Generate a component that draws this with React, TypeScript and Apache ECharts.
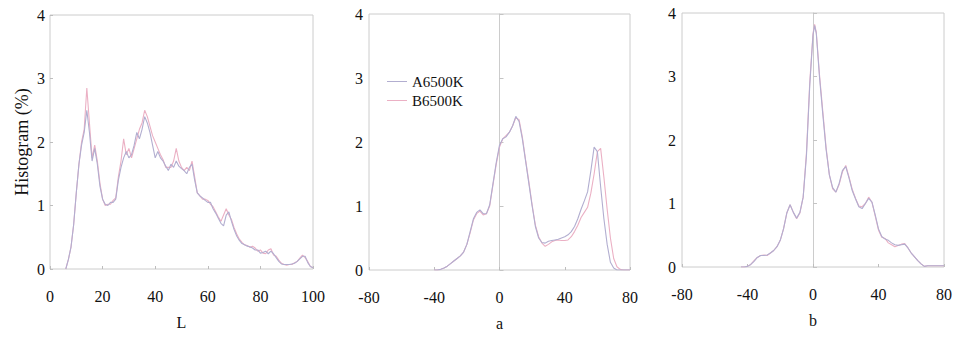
import React, { useEffect, useRef } from "react";
import * as echarts from "echarts";

// ---------- Tick labels ----------
const yTicks = [0, 1, 2, 3, 4];
const lTicks = [0, 20, 40, 60, 80, 100];
const abTicks = [-80, -40, 0, 40, 80];

const seriesNames = ["A6500K", "B6500K"];
const axisNames = ["L", "a", "b"];
const yAxisTitle = "Histogram (%)";

// ---------- Panel 1 : L ----------
const lX = [
  6, 7, 8, 9, 10, 11, 12, 13, 14, 15,
  16, 17, 18, 19, 20, 21, 22, 23, 24, 25,
  26, 27, 28, 29, 30, 31, 32, 33, 34, 35,
  36, 37, 38, 39, 40, 41, 42, 43, 44, 45,
  46, 47, 48, 49, 50, 51, 52, 53, 54, 55,
  56, 57, 58, 59, 60, 61, 62, 63, 64, 65,
  66, 67, 68, 69, 70, 71, 72, 73, 74, 75,
  76, 77, 78, 79, 80, 81, 82, 83, 84, 85,
  86, 87, 88, 89, 90, 91, 92, 93, 94, 95,
  96, 97, 98, 99, 100,
];
const lA = [
  0, 0.15, 0.35, 0.7, 1.2, 1.65, 1.95, 2.15, 2.5, 2.15,
  1.7, 1.9, 1.65, 1.3, 1.1, 1.02, 1.0, 1.05, 1.05, 1.1,
  1.4, 1.6, 1.75, 1.85, 1.75, 1.8, 1.95, 2.15, 2.05, 2.2,
  2.4, 2.3, 2.15, 1.95, 1.75, 1.85, 1.75, 1.7, 1.62, 1.55,
  1.65, 1.6, 1.7, 1.62, 1.58, 1.55, 1.5, 1.6, 1.65, 1.4,
  1.2, 1.15, 1.12, 1.08, 1.05, 1.05, 0.95, 0.88, 0.8, 0.72,
  0.68, 0.85, 0.9, 0.75, 0.62, 0.52, 0.45, 0.4, 0.38, 0.36,
  0.35, 0.33, 0.3, 0.3, 0.25, 0.26, 0.28, 0.24, 0.28, 0.24,
  0.18, 0.12, 0.08, 0.07, 0.07, 0.07, 0.08, 0.09, 0.12, 0.16,
  0.2, 0.2, 0.1, 0.04, 0.02,
];
const lB = [
  0, 0.15, 0.35, 0.7, 1.2, 1.65, 2.0, 2.2, 2.85, 2.3,
  1.75, 1.95, 1.7, 1.35, 1.1, 1.0, 1.02, 1.02, 1.08, 1.12,
  1.45, 1.7, 2.05, 1.8, 1.9, 1.75, 1.9, 2.05, 2.2, 2.3,
  2.5, 2.4, 2.25, 2.1, 2.0, 1.9, 1.8, 1.72, 1.6, 1.6,
  1.6, 1.7, 1.9, 1.7, 1.6, 1.55, 1.6, 1.55, 1.7, 1.45,
  1.2, 1.15, 1.1, 1.1, 1.08, 1.02, 0.98, 0.9, 0.82, 0.75,
  0.85, 0.95, 0.85, 0.78, 0.65, 0.55, 0.47, 0.42, 0.38, 0.37,
  0.34, 0.36, 0.33, 0.28, 0.3, 0.25, 0.24, 0.3, 0.32, 0.22,
  0.2, 0.14, 0.09, 0.07, 0.06, 0.07, 0.07, 0.1, 0.12, 0.17,
  0.22, 0.18, 0.12, 0.04, 0.02,
];

// ---------- Panel 2 : a ----------
const aX = [
  -40, -38, -36, -34, -32, -30, -28, -26, -24, -22,
  -20, -18, -16, -14, -12, -10, -8, -6, -4, -2,
  0, 2, 4, 6, 8, 10, 12, 14, 16, 18,
  20, 22, 24, 26, 28, 30, 32, 34, 36, 38,
  40, 42, 44, 46, 48, 50, 52, 54, 56, 58,
  60, 62, 64, 66, 68, 70, 72, 74, 76, 78,
  80,
];
const aA = [
  0, 0, 0.01, 0.03, 0.06, 0.1, 0.14, 0.18, 0.22, 0.28,
  0.4, 0.6, 0.8, 0.9, 0.94, 0.88, 0.88, 1.02, 1.35, 1.68,
  1.95, 2.05, 2.08, 2.15, 2.25, 2.4, 2.32, 2.05, 1.7, 1.35,
  1.0, 0.68, 0.5, 0.43, 0.42, 0.45, 0.46, 0.47, 0.48, 0.5,
  0.52, 0.55, 0.6, 0.68, 0.8, 0.95, 1.08, 1.22, 1.55, 1.92,
  1.85, 1.3, 0.8, 0.4, 0.12, 0.03, 0, 0, 0, 0,
  0,
];
const aB = [
  0, 0, 0.01, 0.03, 0.06, 0.1, 0.14, 0.18, 0.22, 0.28,
  0.4, 0.58, 0.78, 0.88, 0.92, 0.86, 0.88, 1.0, 1.33, 1.65,
  1.92, 2.05, 2.1, 2.15, 2.25, 2.38, 2.35, 2.08, 1.72, 1.38,
  1.02, 0.7, 0.52, 0.42, 0.37, 0.4, 0.44, 0.46, 0.47, 0.46,
  0.46, 0.47, 0.52, 0.6, 0.7, 0.82, 0.9, 0.98, 1.2, 1.5,
  1.85, 1.9, 1.45, 0.95, 0.5, 0.18, 0.05, 0.01, 0, 0,
  0,
];

// ---------- Panel 3 : b ----------
const bX = [
  -44, -42, -40, -38, -36, -34, -32, -30, -28, -26,
  -24, -22, -20, -18, -16, -14, -12, -10, -8, -6,
  -4, -2, 0, 1, 2, 4, 6, 8, 10, 12, 14,
  16, 18, 20, 22, 24, 26, 28, 30, 32, 34,
  36, 38, 40, 42, 44, 46, 48, 50, 52, 54,
  56, 58, 60, 62, 64, 66, 68, 70, 72, 74,
  76, 78, 80,
];
const bA = [
  0, 0, 0.01, 0.04, 0.09, 0.15, 0.18, 0.18, 0.19, 0.22,
  0.26, 0.32, 0.42, 0.6, 0.85, 0.98, 0.86, 0.77, 0.86, 1.1,
  1.75, 2.85, 3.65, 3.8, 3.68, 2.98, 2.4, 1.85, 1.45, 1.25, 1.18,
  1.32, 1.52, 1.58, 1.4, 1.2, 1.07, 0.95, 0.92, 1.0, 1.08,
  1.02, 0.82, 0.6, 0.48, 0.44, 0.42, 0.38, 0.35, 0.34, 0.35,
  0.36, 0.3, 0.22, 0.16, 0.1, 0.05, 0.01, 0.02, 0.02, 0.02,
  0.02, 0.02, 0.02,
];
const bB = [
  0, 0, 0.01, 0.04, 0.1, 0.15, 0.18, 0.19, 0.18, 0.22,
  0.26, 0.32, 0.42, 0.6, 0.85, 0.98, 0.86, 0.76, 0.85, 1.1,
  1.8, 2.9, 3.68, 3.82, 3.7, 3.02, 2.45, 1.88, 1.45, 1.23, 1.18,
  1.3, 1.5, 1.6, 1.42, 1.22, 1.08, 0.96, 0.95, 1.0, 1.1,
  1.02, 0.8, 0.58, 0.47, 0.45, 0.38, 0.35, 0.32, 0.34, 0.36,
  0.37, 0.3, 0.22, 0.16, 0.1, 0.05, 0.01, 0.02, 0.02, 0.02,
  0.02, 0.02, 0.02,
];

const COLOR_A = "#b2aed0";
const COLOR_B = "#ebb0c4";
const FONT = "Liberation Serif";
const BORDER = "#cccccc";

function pairs(xs: number[], ys: number[]) {
  return xs.map((x, i) => [x, ys[i]]);
}

export default function App() {
  const ref = useRef<HTMLDivElement>(null);

  useEffect(() => {
    document.body.style.margin = "0";
    if (!ref.current) return;
    const chart = echarts.init(ref.current, undefined, { renderer: "svg" });

    const labelStyle = { fontFamily: FONT, fontSize: 16, color: "#111" };
    const tick = { show: true, inside: true, length: 3, lineStyle: { color: "#bdbdbd" } };

    const grids = [
      { left: 50, top: 15, width: 263, height: 254 },
      { left: 369, top: 14, width: 261, height: 256 },
      { left: 682, top: 13, width: 265, height: 254 },
    ].map((g) => ({ ...g, show: true, borderColor: BORDER, borderWidth: 1, backgroundColor: "transparent" }));

    const xTicksPerPanel = [lTicks, abTicks, abTicks];
    const xAxes = xTicksPerPanel.map((t, i) => ({
      type: "value",
      gridIndex: i,
      min: t[0],
      max: t[t.length - 1],
      interval: t[1] - t[0],
      name: axisNames[i],
      nameLocation: "middle",
      nameGap: 45,
      nameTextStyle: labelStyle,
      axisLine: { show: false, onZero: false },
      axisTick: tick,
      splitLine: { show: false },
      axisLabel: { ...labelStyle, margin: 19 },
    }));

    const yBase = {
      type: "value",
      min: yTicks[0],
      max: yTicks[yTicks.length - 1],
      interval: yTicks[1] - yTicks[0],
      splitLine: { show: false },
    };

    const yAxes: any[] = [
      {
        ...yBase,
        gridIndex: 0,
        name: yAxisTitle,
        nameLocation: "middle",
        nameGap: 19,
        nameTextStyle: { ...labelStyle, fontSize: 18 },
        axisLine: { show: false, onZero: false },
        axisTick: tick,
        axisLabel: { ...labelStyle, margin: 5 },
      },
      {
        ...yBase,
        gridIndex: 1,
        axisLine: { show: false, onZero: false },
        axisTick: { show: false },
        axisLabel: { ...labelStyle, margin: 6 },
      },
      {
        ...yBase,
        gridIndex: 1,
        position: "left",
        axisLine: { show: true, onZero: true, lineStyle: { color: BORDER } },
        axisTick: { show: true, inside: true, length: 4, lineStyle: { color: "#c4c4c4" } },
        axisLabel: { show: false },
      },
      {
        ...yBase,
        gridIndex: 2,
        axisLine: { show: false, onZero: false },
        axisTick: { show: false },
        axisLabel: { ...labelStyle, margin: 6 },
      },
      {
        ...yBase,
        gridIndex: 2,
        position: "left",
        axisLine: { show: true, onZero: true, lineStyle: { color: BORDER } },
        axisTick: { show: true, inside: true, length: 4, lineStyle: { color: "#c4c4c4" } },
        axisLabel: { show: false },
      },
    ];

    const mk = (name: string, color: string, xi: number, yi: number, data: number[][]) => ({
      type: "line",
      name,
      xAxisIndex: xi,
      yAxisIndex: yi,
      data,
      symbol: "none",
      lineStyle: { color, width: 1.1 },
      itemStyle: { color },
      z: name === seriesNames[0] ? 3 : 2,
    });

    const series = [
      mk(seriesNames[1], COLOR_B, 0, 0, pairs(lX, lB)),
      mk(seriesNames[0], COLOR_A, 0, 0, pairs(lX, lA)),
      mk(seriesNames[1], COLOR_B, 1, 1, pairs(aX, aB)),
      mk(seriesNames[0], COLOR_A, 1, 1, pairs(aX, aA)),
      mk(seriesNames[1], COLOR_B, 2, 3, pairs(bX, bB)),
      mk(seriesNames[0], COLOR_A, 2, 3, pairs(bX, bA)),
    ];

    chart.setOption({
      animation: false,
      backgroundColor: "#ffffff",
      grid: grids,
      xAxis: xAxes,
      yAxis: yAxes,
      legend: {
        data: seriesNames.map((n) => ({ name: n, icon: "rect" })),
        orient: "vertical",
        left: 387,
        top: 74,
        padding: 0,
        itemGap: 4,
        itemWidth: 20,
        itemHeight: 1,
        textStyle: { ...labelStyle, fontSize: 15 },
        selectedMode: false,
      },
      series,
    });

    return () => chart.dispose();
  }, []);

  return <div ref={ref} style={{ width: 955, height: 345 }} />;
}
